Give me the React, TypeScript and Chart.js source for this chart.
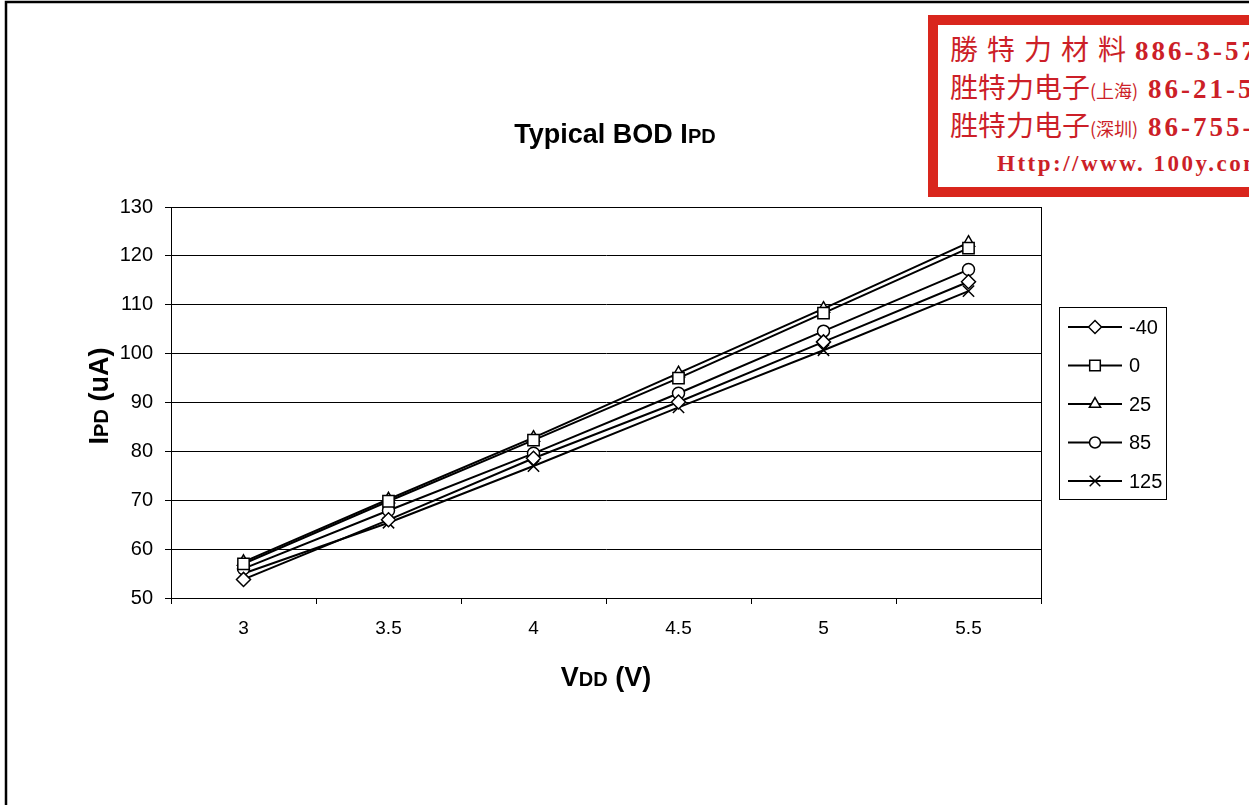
import React, { useEffect, useRef } from "react";
import { Chart, registerables } from "chart.js";
import * as helpersAll from "chart.js/helpers";

Chart.register(...registerables);

// ---- data ----
const categories = ["3", "3.5", "4", "4.5", "5", "5.5"];
const seriesLabels = ["-40", "0", "25", "85", "125"];
const ipdM40 = [53.8, 66.0, 78.6, 90.1, 102.4, 114.7];
const ipd0 = [57.0, 69.8, 82.3, 95.0, 108.3, 121.6];
const ipd25 = [57.4, 70.2, 82.8, 96.0, 109.2, 122.7];
const ipd85 = [56.0, 67.9, 79.6, 91.9, 104.6, 117.2];
const ipd125 = [55.0, 65.4, 77.0, 89.0, 100.7, 112.8];
const seriesValues = [ipdM40, ipd0, ipd25, ipd85, ipd125];
const pointStyles = ["rectRot", "rect", "triangle", "circle", "crossRot"];
const pointRadii = [7, 8, 7, 6, 8];
const yMin = 50;
const yMax = 130;
const yStep = 10;

const FONT = '"Liberation Sans", Arial, sans-serif';

type Part = { text: string; size: number };

function drawMixed(ctx: CanvasRenderingContext2D, parts: Part[], cx: number, cy: number, rotate: boolean) {
  ctx.save();
  ctx.fillStyle = "#000";
  ctx.textBaseline = "alphabetic";
  ctx.textAlign = "left";
  let total = 0;
  const widths = parts.map((p) => {
    ctx.font = `bold ${p.size}px ${FONT}`;
    const w = ctx.measureText(p.text).width;
    total += w;
    return w;
  });
  const big = Math.max(...parts.map((p) => p.size));
  ctx.translate(cx, cy);
  if (rotate) ctx.rotate(-Math.PI / 2);
  let x = -total / 2;
  const base = (big * 0.716) / 2;
  parts.forEach((p, i) => {
    ctx.font = `bold ${p.size}px ${FONT}`;
    ctx.fillText(p.text, x, base);
    x += widths[i];
  });
  ctx.restore();
}

const decorPlugin = {
  id: "decor",
  afterDraw(chart: any) {
    const ctx: CanvasRenderingContext2D = chart.ctx;
    const { left, right, top, bottom } = chart.chartArea;
    ctx.save();
    ctx.strokeStyle = "#000";
    ctx.lineWidth = 1;
    ctx.strokeRect(Math.round(left) + 0.5, Math.round(top) + 0.5, Math.round(right - left), Math.round(bottom - top));
    // outer frame (left and top edges visible)
    ctx.lineWidth = 2.5;
    ctx.beginPath();
    ctx.moveTo(6, 900);
    ctx.lineTo(6, 2);
    ctx.lineTo(1400, 2);
    ctx.stroke();
    ctx.restore();

    // titles
    drawMixed(ctx, [{ text: "Typical BOD I", size: 27 }, { text: "PD", size: 20 }], 615, 133, false);
    drawMixed(ctx, [{ text: "V", size: 27 }, { text: "DD", size: 20 }, { text: " (V)", size: 27 }], 606, 676, false);
    drawMixed(ctx, [{ text: "I", size: 27 }, { text: "PD", size: 20 }, { text: " (uA)", size: 27 }], 98, 396, true);

    // legend
    const lx = 1059, ly = 307, lw = 107, lh = 192;
    ctx.save();
    ctx.fillStyle = "#fff";
    ctx.fillRect(lx, ly, lw, lh);
    ctx.strokeStyle = "#000";
    ctx.lineWidth = 1;
    ctx.strokeRect(lx + 0.5, ly + 0.5, lw, lh);
    seriesLabels.forEach((lab, i) => {
      const y = 327 + i * 38.5;
      ctx.strokeStyle = "#000";
      ctx.lineWidth = 2;
      ctx.beginPath();
      ctx.moveTo(1068, y);
      ctx.lineTo(1122, y);
      ctx.stroke();
      ctx.fillStyle = "#fff";
      ctx.lineWidth = 1.5;
      (helpersAll as any).drawPoint(
        ctx,
        { pointStyle: pointStyles[i], radius: pointRadii[i] - 0.5, borderWidth: 1.5, rotation: 0 },
        1095,
        y
      );
      ctx.fillStyle = "#000";
      ctx.font = `20px ${FONT}`;
      ctx.textBaseline = "middle";
      ctx.textAlign = "left";
      ctx.fillText(lab, 1129, y + 1);
    });
    ctx.restore();
  },
};

function Stamp() {
  const red = "#cc1f28";
  const line: React.CSSProperties = {
    position: "absolute",
    left: 12,
    whiteSpace: "nowrap",
    color: red,
    fontWeight: 700,
  };
  const cjk = '"Noto Sans CJK TC", "Noto Sans CJK SC", serif';
  const num = '"Liberation Serif", "DejaVu Serif", serif';
  return (
    <div
      style={{
        position: "absolute",
        left: 928,
        top: 15,
        width: 420,
        height: 182,
        border: "10px solid #d9261d",
        boxSizing: "border-box",
        background: "#fff",
      }}
    >
      <div style={{ ...line, top: 5, fontSize: 28, lineHeight: "36px" }}>
        <span style={{ fontFamily: cjk, fontWeight: 400, letterSpacing: 9 }}>勝特力材料</span>
        <span style={{ fontFamily: num, fontSize: 27, letterSpacing: 3 }}>886-3-5753170</span>
      </div>
      <div style={{ ...line, top: 43, fontSize: 28, lineHeight: "36px" }}>
        <span style={{ fontFamily: cjk, fontWeight: 400 }}>胜特力电子</span>
        <span style={{ fontFamily: cjk, fontWeight: 400, fontSize: 18 }}>(上海)</span>
        <span style={{ fontFamily: num, fontSize: 27, letterSpacing: 3 }}> 86-21-54151736</span>
      </div>
      <div style={{ ...line, top: 81, fontSize: 28, lineHeight: "36px" }}>
        <span style={{ fontFamily: cjk, fontWeight: 400 }}>胜特力电子</span>
        <span style={{ fontFamily: cjk, fontWeight: 400, fontSize: 18 }}>(深圳)</span>
        <span style={{ fontFamily: num, fontSize: 27, letterSpacing: 3 }}> 86-755-83298787</span>
      </div>
      <div style={{ ...line, left: 59, top: 124, fontSize: 23, lineHeight: "30px", fontFamily: num, letterSpacing: 2.5 }}>
        Http://www. 100y.com.tw
      </div>
    </div>
  );
}

export default function App() {
  const ref = useRef<HTMLCanvasElement | null>(null);

  useEffect(() => {
    document.body.style.margin = "0";
    document.body.style.overflow = "hidden";
    const canvas = ref.current;
    if (!canvas) return;
    const chart = new Chart(canvas, {
      type: "line",
      data: {
        labels: categories,
        datasets: seriesValues.map((vals, i) => ({
          label: seriesLabels[i],
          data: vals,
          borderColor: "#000",
          backgroundColor: "#fff",
          borderWidth: 2,
          pointStyle: pointStyles[i] as any,
          pointRadius: pointRadii[i],
          pointBorderWidth: 1.5,
          pointBorderColor: "#000",
          pointBackgroundColor: "#fff",
          tension: 0,
        })),
      },
      options: {
        responsive: false,
        animation: false,
        devicePixelRatio: 1,
        layout: { padding: { top: 207, right: 208, left: 0, bottom: 0 } },
        plugins: {
          legend: { display: false },
          title: { display: false },
          tooltip: { enabled: false },
        },
        scales: {
          x: {
            type: "category",
            offset: true,
            grid: { offset: true, drawOnChartArea: false, drawTicks: true, tickLength: 6, color: "#000", lineWidth: 1 },
            border: { color: "#000", width: 1 },
            ticks: { color: "#000", font: { family: FONT, size: 19 }, padding: 13, maxRotation: 0 },
            afterFit: (s: any) => {
              s.height = 207;
            },
          },
          y: {
            min: yMin,
            max: yMax,
            ticks: { stepSize: yStep, color: "#000", font: { family: FONT, size: 20 }, padding: 12 },
            grid: { color: "#000", lineWidth: 1, tickLength: 6, drawTicks: true },
            border: { color: "#000", width: 1 },
            afterFit: (s: any) => {
              s.width = 171;
            },
          },
        },
      },
      plugins: [decorPlugin],
    });
    return () => chart.destroy();
  }, []);

  return (
    <div style={{ position: "relative", width: 1249, height: 805, overflow: "hidden", background: "#fff" }}>
      <canvas ref={ref} width={1249} height={805} style={{ position: "absolute", left: 0, top: 0, width: 1249, height: 805 }} />
      <Stamp />
    </div>
  );
}
